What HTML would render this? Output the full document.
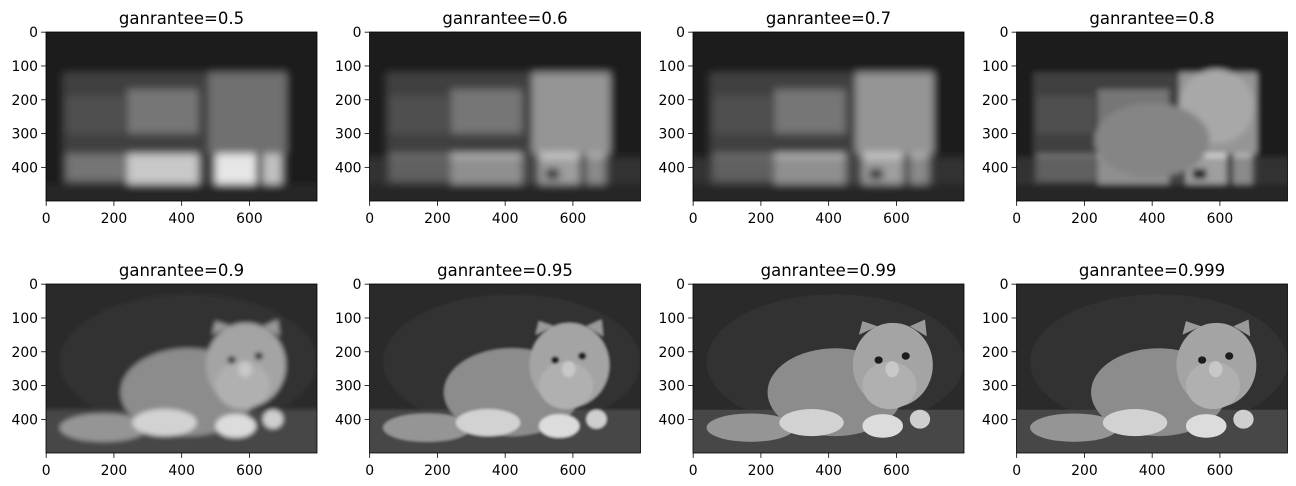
<!DOCTYPE html>
<html><head><meta charset="utf-8"><style>
html,body{margin:0;padding:0;background:#fff;width:1296px;height:486px;overflow:hidden;}
svg{display:block;font-family:"DejaVu Sans","Liberation Sans",sans-serif;}
</style></head><body>
<svg id="fig" width="1296" height="486" viewBox="0 0 1296 486" xmlns="http://www.w3.org/2000/svg" overflow="hidden">
<defs></defs>
</svg>
<script>
const titles = ["ganrantee=0.5","ganrantee=0.6","ganrantee=0.7","ganrantee=0.8","ganrantee=0.9","ganrantee=0.95","ganrantee=0.99","ganrantee=0.999"];
const quality = [0.5,0.6,0.7,0.8,0.9,0.95,0.99,0.999];
const xTicks = [0,200,400,600];
const yTicks = [0,100,200,300,400];
const imgW = 800, imgH = 500;
const colX = [46,369.5,693,1016.5];
const rowY = [32,284];
const axW = 271, axH = 169;
const NS = "http://www.w3.org/2000/svg";
const svg = document.getElementById('fig');
const defs = svg.querySelector('defs');
function el(tag, attrs, parent){const e=document.createElementNS(NS,tag);for(const k in attrs)e.setAttribute(k,attrs[k]);(parent||svg).appendChild(e);return e;}

function blockScene(g, q){
  el('rect',{x:-40,y:-40,width:880,height:580,fill:'#1e1e1e'},g);
  el('rect',{x:50,y:120,width:660,height:330,fill:'#404040'},g);
  el('rect',{x:-40,y:450,width:880,height:90,fill:'#262626'},g);
  el('rect',{x:240,y:170,width:210,height:130,fill:'#767676'},g);
  el('rect',{x:480,y:120,width:230,height:240,fill: q>=0.6?'#959595':'#707070'},g);
  el('rect',{x:60,y:190,width:170,height:110,fill:'#505050'},g);
  el('rect',{x:60,y:360,width:180,height:80,fill:'#747474'},g);
  el('rect',{x:240,y:360,width:210,height:90,fill:'#c8c8c8'},g);
  el('rect',{x:500,y:360,width:120,height:90,fill:'#e6e6e6'},g);
  el('rect',{x:640,y:360,width:55,height:90,fill:'#c0c0c0'},g);
  if(q>=0.6){el('rect',{x:-40,y:370,width:880,height:80,fill:'#4a4a4a',opacity:0.45},g);
    el('rect',{x:520,y:405,width:40,height:30,fill:'#222'},g);}
  if(q>=0.8){el('ellipse',{cx:590,cy:220,rx:110,ry:110,fill:'#a8a8a8'},g);
    el('ellipse',{cx:400,cy:320,rx:170,ry:110,fill:'#858585'},g);}
}
function catScene(g, q){
  el('rect',{x:-40,y:-40,width:880,height:415,fill:'#2b2b2b'},g);
  el('ellipse',{cx:420,cy:230,rx:380,ry:200,fill:'#303030'},g);
  el('rect',{x:-40,y:372,width:880,height:168,fill:'#464646'},g);
  el('ellipse',{cx:170,cy:425,rx:130,ry:42,fill:'#959595'},g);
  el('ellipse',{cx:420,cy:320,rx:200,ry:130,fill:'#8c8c8c'},g);
  el('ellipse',{cx:350,cy:410,rx:95,ry:40,fill:'#d2d2d2'},g);
  el('polygon',{points:'490,150 500,110 545,125',fill:'#9a9a9a'},g);
  el('polygon',{points:'640,125 685,105 690,155',fill:'#9a9a9a'},g);
  el('ellipse',{cx:590,cy:240,rx:118,ry:125,fill:'#a4a4a4'},g);
  el('ellipse',{cx:580,cy:300,rx:80,ry:70,fill:'#b0b0b0'},g);
  el('ellipse',{cx:560,cy:420,rx:60,ry:35,fill:'#dcdcdc'},g);
  el('ellipse',{cx:670,cy:400,rx:30,ry:28,fill:'#cfcfcf'},g);
  el('ellipse',{cx:548,cy:225,rx:12,ry:11,fill:'#1a1a1a'},g);
  el('ellipse',{cx:628,cy:213,rx:12,ry:11,fill:'#1a1a1a'},g);
  el('ellipse',{cx:588,cy:252,rx:20,ry:24,fill:'#c8c8c8'},g);
}

titles.forEach((t,i)=>{
  const r=Math.floor(i/4), c=i%4;
  const x0=colX[c], y0=rowY[r];
  const sx=v=>x0+(v+0.5)*axW/imgW, sy=v=>y0+(v+0.5)*axH/imgH;
  const q=quality[i];
  const blur = q>=0.99?0.8:(q>=0.95?4:(q>=0.9?7:(q>=0.8?9:12)));
  const f=el('filter',{id:'f'+i,filterUnits:'userSpaceOnUse',x:'-40',y:'-40',width:'880',height:'580'},defs);
  el('feGaussianBlur',{stdDeviation:blur},f);
  const cp=el('clipPath',{id:'c'+i},defs);
  el('rect',{x:x0,y:y0,width:axW,height:axH},cp);
  const ax=el('g',{'clip-path':'url(#c'+i+')'});
  
  
  const tr=el('g',{transform:`translate(${x0},${y0}) scale(${axW/imgW},${axH/imgH})`},ax);
  const inner=el('g',{filter:'url(#f'+i+')'},tr);
  if(q<0.9) blockScene(inner,q); else catScene(inner,q);
  const frame=el('rect',{x:x0,y:y0,width:axW,height:axH,fill:'none',stroke:'#000','stroke-width':0.8});
  
  
  const tt=el('text',{x:x0+axW/2,y:y0-8,'font-size':'16.5','text-anchor':'middle',fill:'#000'});
  tt.textContent=t;
  
  
  xTicks.forEach(v=>{
    el('line',{x1:sx(v),x2:sx(v),y1:y0+axH,y2:y0+axH+4.9,stroke:'#000','stroke-width':0.8});
    const l=el('text',{x:sx(v),y:y0+axH+22,'font-size':'13.9','text-anchor':'middle',fill:'#000'});
    l.textContent=v;
    
    
  });
  yTicks.forEach(v=>{
    el('line',{x1:x0-4.9,x2:x0,y1:sy(v),y2:sy(v),stroke:'#000','stroke-width':0.8});
    const l=el('text',{x:x0-8,y:sy(v)+5,'font-size':'13.9','text-anchor':'end',fill:'#000'});
    l.textContent=v;
    
    
  });
});
</script>
</body></html>
